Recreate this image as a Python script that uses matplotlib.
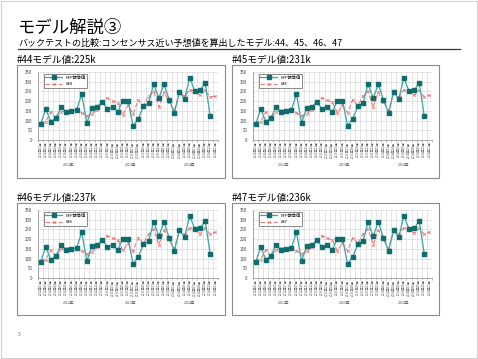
import numpy as np
import matplotlib.pyplot as plt
from matplotlib.patches import Rectangle

plt.rcParams['font.family'] = ['Noto Sans CJK JP', 'DejaVu Sans']

W, H = 478, 359

# NFP actual values (k), 34 months
nfp = [80, 160, 95, 115, 170, 145, 150, 155, 235, 88, 163, 172, 195, 160, 168, 145,
       203, 203, 72, 110, 173, 190, 288, 215, 288, 208, 140, 245, 212, 320, 252, 255,
       295, 122]

# model predictions, 35 months
pred44 = [90, 95, 145, 110, 145, 150, 153, 153, 140, 125, 135, 155, 193, 215, 200, 193,
          130, 178, 135, 205, 178, 225, 250, 170, 245, 198, 150, 245, 225, 258, 252, 230,
          255, 222, 225]
pred45 = [90, 95, 145, 110, 145, 152, 155, 155, 140, 125, 135, 155, 195, 218, 205, 195,
          140, 178, 140, 208, 178, 225, 250, 170, 245, 198, 150, 245, 222, 258, 250, 230,
          255, 220, 231]
pred46 = [90, 95, 145, 112, 147, 153, 155, 155, 138, 125, 135, 157, 195, 218, 205, 197,
          142, 178, 138, 208, 178, 226, 252, 172, 246, 200, 150, 246, 224, 258, 250, 228,
          255, 225, 237]
pred47 = [90, 95, 145, 112, 146, 153, 155, 155, 140, 125, 137, 157, 195, 218, 205, 195,
          140, 180, 138, 208, 178, 226, 252, 172, 246, 200, 150, 246, 224, 258, 250, 230,
          255, 225, 236]

models = ['#44', '#45', '#46', '#47']
model_vals = ['225k', '231k', '237k', '236k']
preds = [pred44, pred45, pred46, pred47]

years = ['2012年', '2013年', '2014年']
months = [f'{2012 + i // 12}年{(i % 12) + 1:02d}月' for i in range(35)]

fig = plt.figure(figsize=(W / 100, H / 100), dpi=100)


def px(x0, y0, x1, y1):
    return [x0 / W, 1 - y1 / H, (x1 - x0) / W, (y1 - y0) / H]


# slide frame
fig.patches.append(Rectangle((0.002, 0.003), 0.996, 0.994, transform=fig.transFigure,
                             fill=False, ec='#d0d0d0', lw=0.8))

fig.text(17 / W, 1 - 33 / H, 'モデル解説③', fontsize=12.5, va='baseline')
fig.text(18 / W, 1 - 46 / H, 'バックテストの比較:コンセンサス近い予想値を算出したモデル:44、45、46、47',
         fontsize=6.5, va='baseline')
fig.add_artist(plt.Line2D([18 / W, 460 / W], [1 - 48.5 / H, 1 - 48.5 / H],
                          color='#333333', lw=0.9))
fig.text(18 / W, 1 - 336 / H, '5', fontsize=3.5, color='#666666')

boxes = [(17, 65, 225, 178), (232, 65, 439, 178), (17, 203, 225, 315), (232, 203, 439, 315)]

for (bx0, by0, bx1, by1), name, mv, pr in zip(boxes, models, model_vals, preds):
    fig.text(bx0 / W, 1 - (by0 - 2) / H, f'{name}モデル値:{mv}', fontsize=7,
             va='baseline')
    fig.patches.append(Rectangle((bx0 / W, 1 - by1 / H), (bx1 - bx0) / W, (by1 - by0) / H,
                                 transform=fig.transFigure, fill=False, ec='#8a8a8a',
                                 lw=0.8))
    ax = fig.add_axes(px(bx0 + 21, by0 + 7, bx1 - 7, by0 + 75))
    x_nfp = np.arange(len(nfp))
    x_pr = np.arange(len(pr))
    ax.plot(x_pr, pr, color='#ee7a7a', lw=0.8, ls=(0, (4, 2)), marker='x', ms=1.8,
            mew=0.6, label=name, zorder=2)
    ax.plot(x_nfp, nfp, color='#3aa6a6', lw=0.9, marker='s', ms=3,
            mfc='#0f6d6d', mec='#0f6d6d', label='NFP報告値', zorder=3)
    ax.set_xlim(-0.5, len(pr) - 0.5)
    ax.set_ylim(0, 350)
    ax.set_yticks(range(0, 351, 50))
    ax.set_xticks(np.arange(-0.5, len(pr), 1))
    ax.set_xticklabels([])
    ax.grid(True, color='#d9d9d9', lw=0.5)
    ax.set_axisbelow(True)
    ax.tick_params(axis='y', labelsize=3.2, length=0, pad=4, colors='#444444')
    ax.tick_params(axis='x', length=1.5, width=0.4, color='#888888')
    for s in ['top', 'right']:
        ax.spines[s].set_visible(False)
    for s in ['left', 'bottom']:
        ax.spines[s].set_color('#888888')
        ax.spines[s].set_linewidth(0.5)
    for i, m in enumerate(months[:len(pr)]):
        ax.text(i, -8, m, rotation=90, fontsize=2.2, ha='center', va='top',
                color='#555555')
    for j, yr in enumerate(years):
        ax.text(min(5.5 + 12 * j, 29), -120, yr, fontsize=2.6, ha='center', va='top',
                color='#444444')
    handles, labels = ax.get_legend_handles_labels()
    leg = ax.legend(handles[::-1], labels[::-1], loc='upper left',
                    bbox_to_anchor=(0.02, 1.0), fontsize=3,
                    frameon=True, fancybox=False, edgecolor='#333333',
                    handlelength=4, borderpad=0.4, labelspacing=0.6)
    leg.get_frame().set_linewidth(0.5)

fig.savefig('out.png', dpi=100)
